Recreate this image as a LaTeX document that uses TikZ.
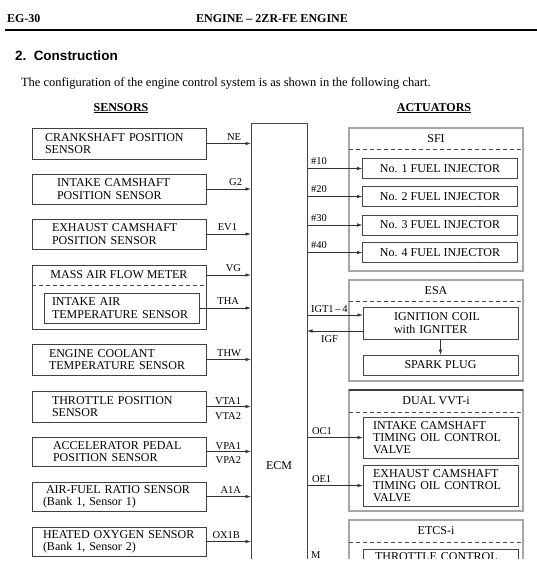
\documentclass[tikz,border=0pt]{standalone}
\usepackage{fontspec}
\setmainfont{Liberation Serif}
\newfontfamily\arialfont{Liberation Sans}
\usetikzlibrary{arrows.meta,calc}
\begin{document}
\begin{tikzpicture}[x=1pt,y=-1pt,
  every node/.style={inner sep=0pt, outer sep=0pt},
  boxfont/.style={font=\fontsize{12pt}{12.3pt}\selectfont},
  sbox/.style={draw=black!75, line width=0.9pt, minimum width=174pt, boxfont, align=left, inner ysep=0pt},
  abox/.style={draw=black!72, line width=0.9pt, minimum width=155pt, boxfont, align=left, inner ysep=0pt},
  grp/.style={draw=black!35, line width=1.4pt, minimum width=174pt},
  grptitle/.style={minimum width=174pt, boxfont},
  dsh/.style={draw=black!70, line width=0.8pt, dash pattern=on 4pt off 3pt},
  sig/.style={draw=black!80, line width=0.8pt, -{Latex[length=5.5pt,width=3.6pt]}},
  lbl/.style={font=\fontsize{10.5pt}{11pt}\selectfont},
  ttl/.style={font=\bfseries\fontsize{12pt}{13pt}\selectfont}
]
\useasboundingbox (0,0) rectangle (537,573);
\fill[white] (0,0) rectangle (537,573);
\clip (0,0) rectangle (537,558);

% header
\node[ttl, anchor=base west] (pg) at (7,22) {EG-30};
\node[ttl, anchor=base] (hd) at (272,22) {ENGINE -- 2ZR-FE ENGINE};
\draw[line width=1.2pt] (5,30) -- (537,30);
\node[anchor=base west, font=\arialfont\bfseries\fontsize{13.5pt}{15pt}\selectfont] (sec) at (15,60) {2.\ \ Construction};
\node[anchor=base west, font=\fontsize{12.5pt}{13pt}\selectfont] (intro) at (21,86) {The configuration of the engine control system is as shown in the following chart.};
\node[ttl, anchor=base] (sens) at (121,111) {\underline{SENSORS}};
\node[ttl, anchor=base] (act) at (434,111) {\underline{ACTUATORS}};

% ECM
\node[draw=black!72, line width=0.9pt, minimum width=56pt, minimum height=530pt, anchor=north] (ecm) at (279,123) {};
\node[boxfont] (ecmlbl) at (279,466) {ECM};

% sensors
\node[sbox, minimum height=31pt, inner xsep=13pt, text width=148pt] (s1) at (119,143.5) {CRANKSHAFT POSITION\\SENSOR};
\node[sbox, minimum height=30pt, inner xsep=25pt, text width=124pt] (s2) at (119,189) {INTAKE CAMSHAFT\\POSITION SENSOR};
\node[sbox, minimum height=30pt, inner xsep=20pt, text width=134pt] (s3) at (119,234) {EXHAUST CAMSHAFT\\POSITION SENSOR};
\node[sbox, minimum height=64pt] (maf) at (119,297) {};
\node[grptitle] (maft) at (119,275) {MASS AIR FLOW METER};
\draw[dsh] (maf.west |- 0,285) -- (maf.east |- 0,285);
\node[sbox, minimum width=155pt, minimum height=30pt, inner xsep=8pt, text width=139pt] (iat) at (121.5,308) {INTAKE AIR\\TEMPERATURE SENSOR};
\node[sbox, minimum height=31pt, inner xsep=17pt, text width=140pt] (ect) at (119,359.5) {ENGINE COOLANT\\TEMPERATURE SENSOR};
\node[sbox, minimum height=31pt, inner xsep=20pt, text width=134pt] (tps) at (119,406.5) {THROTTLE POSITION\\SENSOR};
\node[sbox, minimum height=29pt, inner xsep=21pt, text width=132pt] (app) at (119,451.5) {ACCELERATOR PEDAL\\POSITION SENSOR};
\node[sbox, minimum height=29pt, inner xsep=11pt, text width=152pt] (af) at (119,496.5) {\hspace*{3pt}AIR-FUEL RATIO SENSOR\\(Bank 1, Sensor 1)};
\node[sbox, minimum height=29pt, inner xsep=11pt, text width=152pt] (ho2) at (119,541.5) {HEATED OXYGEN SENSOR\\(Bank 1, Sensor 2)};

\draw[sig] (s1.east) -- (s1.east -| ecm.west);
\draw[sig] (s2.east) -- (s2.east -| ecm.west);
\draw[sig] (s3.east) -- (s3.east -| ecm.west);
\draw[sig] (maft.east) -- (maft.east -| ecm.west);
\draw[sig] (iat.east) -- (iat.east -| ecm.west);
\draw[sig] (ect.east) -- (ect.east -| ecm.west);
\draw[sig] (tps.east) -- (tps.east -| ecm.west);
\draw[sig] (app.east) -- (app.east -| ecm.west);
\draw[sig] (af.east) -- (af.east -| ecm.west);
\draw[sig] (ho2.east) -- (ho2.east -| ecm.west);

\node[lbl, anchor=base east] (lNE) at ($(s1.east -| ecm.west)+(-10,-3.5)$) {NE};
\node[lbl, anchor=base east] (lG2) at ($(s2.east -| ecm.west)+(-9,-3.5)$) {G2};
\node[lbl, anchor=base east] (lEV) at ($(s3.east -| ecm.west)+(-14,-3.5)$) {EV1};
\node[lbl, anchor=base east] (lVG) at ($(maft.east -| ecm.west)+(-10,-3.5)$) {VG};
\node[lbl, anchor=base east] (lTHA) at ($(iat.east -| ecm.west)+(-12,-3.5)$) {THA};
\node[lbl, anchor=base east] (lTHW) at ($(ect.east -| ecm.west)+(-10,-3.5)$) {THW};
\node[lbl, anchor=base east] (lVTA1) at ($(tps.east -| ecm.west)+(-10,-2.5)$) {VTA1};
\node[lbl, anchor=base east] (lVTA2) at ($(tps.east -| ecm.west)+(-10,12.5)$) {VTA2};
\node[lbl, anchor=base east] (lVPA1) at ($(app.east -| ecm.west)+(-10,-2.5)$) {VPA1};
\node[lbl, anchor=base east] (lVPA2) at ($(app.east -| ecm.west)+(-10,11.5)$) {VPA2};
\node[lbl, anchor=base east] (lA1A) at ($(af.east -| ecm.west)+(-10,-3.5)$) {A1A};
\node[lbl, anchor=base east] (lOX) at ($(ho2.east -| ecm.west)+(-11,-3.5)$) {OX1B};

% actuators: SFI
\node[grp, minimum height=143pt] (sfi) at (436,199.5) {};
\node[grptitle] (sfit) at (436,139) {SFI};
\draw[dsh] (sfi.west |- 0,149) -- (sfi.east |- 0,149);
\node[abox, minimum height=20pt, align=center] (inj1) at (440,168.5) {No. 1 FUEL INJECTOR};
\node[abox, minimum height=20pt, align=center] (inj2) at (440,196.5) {No. 2 FUEL INJECTOR};
\node[abox, minimum height=20pt, align=center] (inj3) at (440,225) {No. 3 FUEL INJECTOR};
\node[abox, minimum height=20pt, align=center] (inj4) at (440,252.5) {No. 4 FUEL INJECTOR};
\draw[sig] (inj1.west -| ecm.east) -- (inj1.west);
\draw[sig] (inj2.west -| ecm.east) -- (inj2.west);
\draw[sig] (inj3.west -| ecm.east) -- (inj3.west);
\draw[sig] (inj4.west -| ecm.east) -- (inj4.west);
\node[lbl, anchor=base west] (l10) at ($(inj1.west -| ecm.east)+(4,-4)$) {\#10};
\node[lbl, anchor=base west] (l20) at ($(inj2.west -| ecm.east)+(4,-4)$) {\#20};
\node[lbl, anchor=base west] (l30) at ($(inj3.west -| ecm.east)+(4,-4)$) {\#30};
\node[lbl, anchor=base west] (l40) at ($(inj4.west -| ecm.east)+(4,-4)$) {\#40};

% ESA
\node[grp, minimum height=101pt] (esa) at (436,330.5) {};
\node[grptitle] (esat) at (436,290.5) {ESA};
\draw[dsh] (esa.west |- 0,301) -- (esa.east |- 0,301);
\node[abox, minimum height=32pt, inner xsep=31pt, text width=93pt] (coil) at (440.5,323) {IGNITION COIL\\with IGNITER};
\node[abox, minimum height=20pt, align=center] (spark) at (440.5,365) {SPARK PLUG};
\draw[sig] ($(coil.west -| ecm.east)+(0,-8)$) -- ($(coil.west)+(0,-8)$);
\draw[sig] ($(coil.west)+(0,8)$) -- ($(coil.west -| ecm.east)+(0,8)$);
\draw[sig] (coil.south) -- (spark.north);
\node[lbl, anchor=base west] (lIGT) at ($(coil.west -| ecm.east)+(4,-11)$) {IGT1\,--\,4};
\node[lbl, anchor=base west] (lIGF) at ($(coil.west -| ecm.east)+(14,19)$) {IGF};

% DUAL VVT-i
\node[grp, minimum height=121pt] (vvt) at (436,450.5) {};
\draw[black!75, line width=1.2pt] (vvt.north west) -- (vvt.north east);
\node[grptitle] (vvtt) at (436,401) {DUAL VVT-i};
\draw[dsh] (vvt.west |- 0,412) -- (vvt.east |- 0,412);
\node[abox, minimum height=41pt, inner xsep=10pt, text width=135pt] (ocv1) at (440.5,437.5) {INTAKE CAMSHAFT\\TIMING OIL CONTROL\\VALVE};
\node[abox, minimum height=41pt, inner xsep=10pt, text width=135pt] (ocv2) at (440.5,485.5) {EXHAUST CAMSHAFT\\TIMING OIL CONTROL\\VALVE};
\draw[sig] (ocv1.west -| ecm.east) -- (ocv1.west);
\draw[sig] (ocv2.west -| ecm.east) -- (ocv2.west);
\node[lbl, anchor=base west] (lOC) at ($(ocv1.west -| ecm.east)+(5,-3)$) {OC1};
\node[lbl, anchor=base west] (lOE) at ($(ocv2.west -| ecm.east)+(5,-3)$) {OE1};

% ETCS-i
\node[grp, minimum height=120pt] (etcs) at (436,580) {};
\node[grptitle] (etcst) at (436,531) {ETCS-i};
\draw[dsh] (etcs.west |- 0,542) -- (etcs.east |- 0,542);
\node[abox, anchor=north, inner xsep=12pt, inner ysep=3.5pt, text width=131pt] (thr) at (440.5,549) {THROTTLE CONTROL\\ \strut};
\node[lbl, anchor=base west] (lM) at (311,558.5) {M};
\end{tikzpicture}
\end{document}
